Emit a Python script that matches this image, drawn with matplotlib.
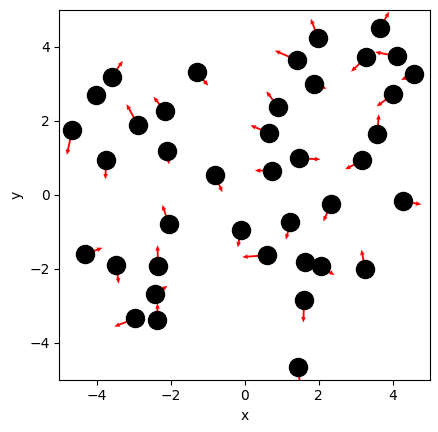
import matplotlib
matplotlib.use("Agg")
import matplotlib.pyplot as plt
import numpy as np

x = [-4.66, -3.74, -4.02, -3.59, -2.87, -1.29, -2.15, -2.09, -0.79, -0.10,
     -2.05, -4.32, -3.47, -2.34, -2.41, -2.95, -2.36, 0.67, 0.91, 1.42,
     1.99, 1.88, 1.48, 0.75, 3.67, 3.29, 4.12, 4.59, 4.02, 3.59,
     3.18, 4.29, 2.34, 1.24, 0.61, 1.64, 2.07, 3.26, 1.61, 1.45]
y = [1.74, 0.92, 2.68, 3.18, 1.87, 3.30, 2.25, 1.18, 0.52, -0.95,
     -0.79, -1.62, -1.90, -1.93, -2.68, -3.35, -3.40, 1.66, 2.36, 3.63,
     4.24, 2.98, 0.98, 0.64, 4.51, 3.71, 3.74, 3.25, 2.71, 1.63,
     0.92, -0.18, -0.26, -0.74, -1.64, -1.82, -1.94, -2.01, -2.86, -4.67]
u = [-0.14, -0.02, 0.05, 0.30, -0.32, 0.31, -0.31, 0.05, 0.19, -0.08,
     -0.17, 0.48, 0.07, -0.01, 0.33, -0.57, 0.01, -0.51, -0.32, -0.60,
     -0.20, 0.34, 0.57, -0.47, 0.24, -0.41, -0.59, -0.36, -0.45, 0.04,
     -0.46, 0.49, -0.21, -0.12, -0.67, 0.05, 0.36, -0.10, -0.02, 0.05]
v = [-0.67, -0.51, -0.05, 0.43, 0.57, -0.36, 0.39, -0.37, -0.46, -0.48,
     0.51, 0.18, -0.51, 0.56, 0.21, -0.22, 0.46, 0.21, 0.43, 0.26,
     0.51, -0.12, -0.03, 0.01, 0.43, -0.39, 0.11, -0.15, -0.33, 0.54,
     -0.24, -0.09, -0.47, -0.48, -0.05, 0.05, -0.24, 0.52, -0.60, -0.50]

fig = plt.figure(figsize=(4.39, 4.32), dpi=100)
ax = fig.add_axes([59.5/439, 1 - 379.5/432, 370/439, 370/432])
ax.quiver(x, y, u, v, color='red', angles='xy', scale_units='xy', scale=1,
          width=0.005, headwidth=2.5, headlength=3, headaxislength=2.8, zorder=1)
ax.plot(x, y, 'o', color='black', markersize=13, zorder=2)
ax.set_xlim(-5, 5)
ax.set_ylim(-5, 5)
ax.set_xticks([-4, -2, 0, 2, 4])
ax.set_yticks([-4, -2, 0, 2, 4])
ax.set_xlabel('x')
ax.set_ylabel('y')
fig.savefig('out.png', dpi=100)
